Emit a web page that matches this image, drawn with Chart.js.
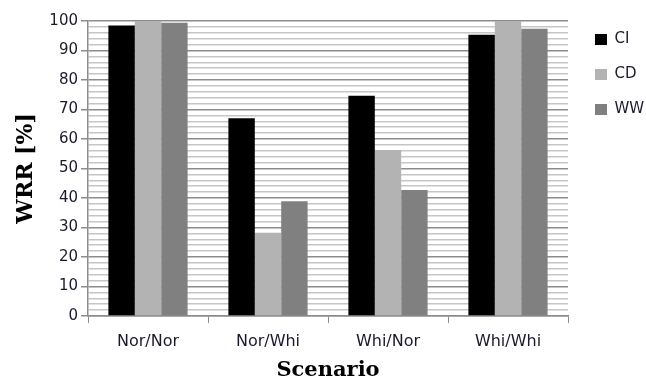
<!DOCTYPE html>
<html>
<head>
<meta charset="utf-8">
<script src="https://cdn.jsdelivr.net/npm/chart.js@4.4.1/dist/chart.umd.min.js"></script>
<style>
  html, body { margin: 0; padding: 0; background: #fff; }
  #wrap { width: 646px; height: 383px; }
</style>
</head>
<body>
<div id="wrap"><canvas id="wrrChart" width="646" height="383"></canvas></div>
<script>
// scenarios and recognition rates
const scenarios = ['Nor/Nor', 'Nor/Whi', 'Whi/Nor', 'Whi/Whi'];
const ciValues = [98.5, 67.0, 74.7, 95.3];
const cdValues = [100, 28.2, 56.3, 100];
const wwValues = [99.4, 38.9, 42.7, 97.4];
const yTicks = [0, 10, 20, 30, 40, 50, 60, 70, 80, 90, 100];

const labelColor = '#1a1a2e';
const axisGray = '#8c8c8c';

// keep the legend a fixed width and nudge it next to the plot
const legendPlace = {
    id: 'legendPlace',
    afterInit(chart) {
        const legend = chart.legend;
        const origFit = legend.fit;
        legend.fit = function() {
            origFit.call(this);
            this.width = 78;
        };
    },
    afterLayout(chart) {
        chart.legend.left += 7;
        chart.legend.right += 7;
        chart.legend.top -= 9;
        chart.legend.bottom -= 9;
    }
};

const ctx = document.getElementById('wrrChart').getContext('2d');
const wrrChart = new Chart(ctx, {
    type: 'bar',
    data: {
        labels: scenarios,
        datasets: [
            { label: 'CI', data: ciValues, backgroundColor: '#000000' },
            { label: 'CD', data: cdValues, backgroundColor: '#b3b3b3' },
            { label: 'WW', data: wwValues, backgroundColor: '#808080' }
        ]
    },
    plugins: [legendPlace],
    options: {
        responsive: false,
        animation: false,
        devicePixelRatio: 1,
        layout: { padding: { top: 21, right: 0, left: 4, bottom: 0 } },
        datasets: {
            bar: { categoryPercentage: 0.66, barPercentage: 1.0 }
        },
        plugins: {
            tooltip: { enabled: false },
            legend: {
                position: 'right',
                align: 'start',
                labels: {
                    boxWidth: 12,
                    boxHeight: 11,
                    padding: 20,
                    color: labelColor,
                    font: { family: 'DejaVu Sans', size: 15 }
                }
            }
        },
        scales: {
            x: {
                offset: true,
                afterFit: function(scale) { scale.height = 67; },
                grid: {
                    offset: true,
                    drawOnChartArea: false,
                    color: axisGray,
                    tickLength: 7
                },
                border: { color: axisGray, width: 1.5 },
                ticks: { color: labelColor, font: { family: 'DejaVu Sans', size: 16 }, padding: 9 },
                title: {
                    display: true,
                    text: 'Scenario',
                    color: '#000',
                    font: { family: 'DejaVu Serif', size: 21, weight: 'bold' },
                    padding: { top: 0, bottom: 0 }
                }
            },
            y: {
                min: 0,
                max: 100,
                afterFit: function(scale) { scale.width = 84; },
                afterBuildTicks: function(scale) {
                    // minor lines every 2 units
                    const t = [];
                    for (let v = 0; v <= 100; v += 2) t.push({ value: v });
                    scale.ticks = t;
                },
                grid: {
                    color: function(c) { return c.tick && c.tick.value % 10 === 0 ? axisGray : '#c6c6c6'; },
                    lineWidth: 1.5,
                    tickColor: function(c) { return c.tick && c.tick.value % 10 === 0 ? axisGray : 'rgba(0,0,0,0)'; },
                    tickLength: 7
                },
                border: { color: axisGray, width: 1.5 },
                ticks: {
                    color: labelColor,
                    font: { family: 'DejaVu Sans', size: 15 },
                    padding: 3,
                    autoSkip: false,
                    callback: function(v) { return yTicks.includes(v) ? String(v) : ''; }
                },
                title: {
                    display: true,
                    text: 'WRR [%]',
                    color: '#000',
                    font: { family: 'DejaVu Serif', size: 22, weight: 'bold' },
                    padding: { top: 9, bottom: 0 }
                }
            }
        }
    }
});
</script>
</body>
</html>
